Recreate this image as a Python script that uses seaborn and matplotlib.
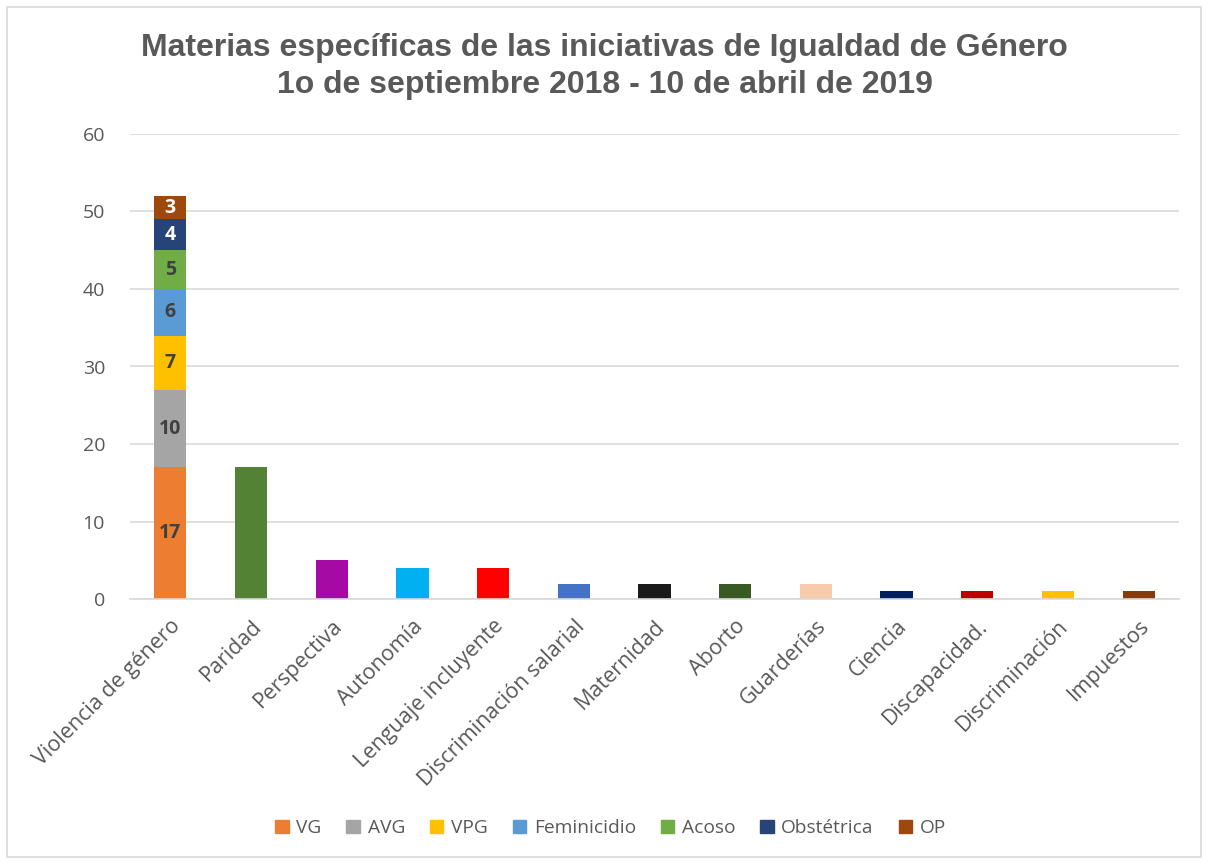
import matplotlib
matplotlib.use("Agg")
import matplotlib.pyplot as plt
import matplotlib.patches as mpatches
import seaborn as sns
import pandas as pd
import numpy as np

# ---- data ----
categories = ["Violencia de género", "Paridad", "Perspectiva", "Autonomía",
              "Lenguaje incluyente", "Discriminación salarial", "Maternidad",
              "Aborto", "Guarderías", "Ciencia", "Discapacidad.",
              "Discriminación", "Impuestos"]
single_values = [None, 17, 5, 4, 4, 2, 2, 2, 2, 1, 1, 1, 1]
single_colors = [None, "#548235", "#A50AA5", "#00B0F0", "#FF0000", "#4472C4",
                 "#1A1A1A", "#3A5A24", "#F8CBAD", "#002060", "#C00000",
                 "#FFC000", "#843C0C"]

stack_labels = ["VG", "AVG", "VPG", "Feminicidio", "Acoso", "Obstétrica", "OP"]
stack_values = [17, 10, 7, 6, 5, 4, 3]
stack_colors = ["#ED7D31", "#A5A5A5", "#FFC000", "#5B9BD5", "#70AD47", "#264478", "#9E480E"]
stack_text_colors = ["#404040", "#404040", "#404040", "#404040", "#404040", "white", "white"]

yticks = [0, 10, 20, 30, 40, 50, 60]
title = "Materias específicas de las iniciativas de Igualdad de Género\n1o de septiembre 2018 - 10 de abril de 2019"

# ---- figure ----
sns.set_theme(style="white")
plt.rcParams["font.family"] = ["Open Sans", "DejaVu Sans"]

fig = plt.figure(figsize=(12.09, 8.63), dpi=100)
ax = fig.add_axes([130 / 1209, 1 - 599 / 863, 1049 / 1209, (599 - 134) / 863])

# single bars
df_single = pd.DataFrame({"cat": categories[1:], "val": single_values[1:]})
pal = dict(zip(categories[1:], single_colors[1:]))
sns.barplot(data=df_single, x="cat", y="val", hue="cat", order=categories,
            hue_order=categories[1:], palette=pal, width=0.4, legend=False,
            saturation=1, ax=ax, linewidth=0)

# stacked bar
bottom = 0
for lab, v, c, tc in zip(stack_labels, stack_values, stack_colors, stack_text_colors):
    dfs = pd.DataFrame({"cat": [categories[0]], "val": [v]})
    sns.barplot(data=dfs, x="cat", y="val", order=categories, color=c,
                saturation=1, width=0.4, bottom=bottom, ax=ax, linewidth=0)
    ax.text(0, bottom + v / 2, str(v), ha="center", va="center",
            fontsize=14, fontweight="bold", color=tc)
    bottom += v

if ax.get_legend() is not None:
    ax.get_legend().remove()

ax.set_ylim(0, 60)
ax.set_xlim(-0.5, len(categories) - 0.5)
ax.set_yticks(yticks)
ax.set_yticklabels([str(t) for t in yticks], fontsize=14, color="#595959")
ax.set_xlabel("")
ax.set_ylabel("")
ax.tick_params(axis="y", length=0, pad=18)
ax.tick_params(axis="x", length=0, pad=12)
ax.set_xticks(range(len(categories)))
ax.set_xticklabels(categories, rotation=45, ha="right", rotation_mode="anchor",
                   fontsize=15.5, color="#595959")
ax.grid(axis="y", color="#D9D9D9", linewidth=1.2)
ax.set_axisbelow(True)
for s in ["top", "right", "left"]:
    ax.spines[s].set_visible(False)
ax.spines["bottom"].set_color("#D9D9D9")
ax.spines["bottom"].set_linewidth(1.2)

fig.suptitle(title, x=0.5, y=0.962, fontsize=23, fontweight="bold",
             color="#595959", family="Liberation Sans", linespacing=1.3)

handles = [mpatches.Patch(color=c, label=l) for l, c in zip(stack_labels, stack_colors)]
fig.legend(handles=handles, loc="center", bbox_to_anchor=(0.505, 1 - 828 / 863),
           ncol=7, frameon=False, fontsize=13.8, handlelength=0.7, handleheight=0.7,
           handletextpad=0.4, columnspacing=1.3, labelcolor="#595959")

fig.add_artist(mpatches.Rectangle((7 / 1209, 6 / 863), 1194 / 1209, 850 / 863,
                                  transform=fig.transFigure, fill=False,
                                  edgecolor="#D9D9D9", linewidth=1.2))

fig.savefig("out.png", dpi=100, facecolor="white")
